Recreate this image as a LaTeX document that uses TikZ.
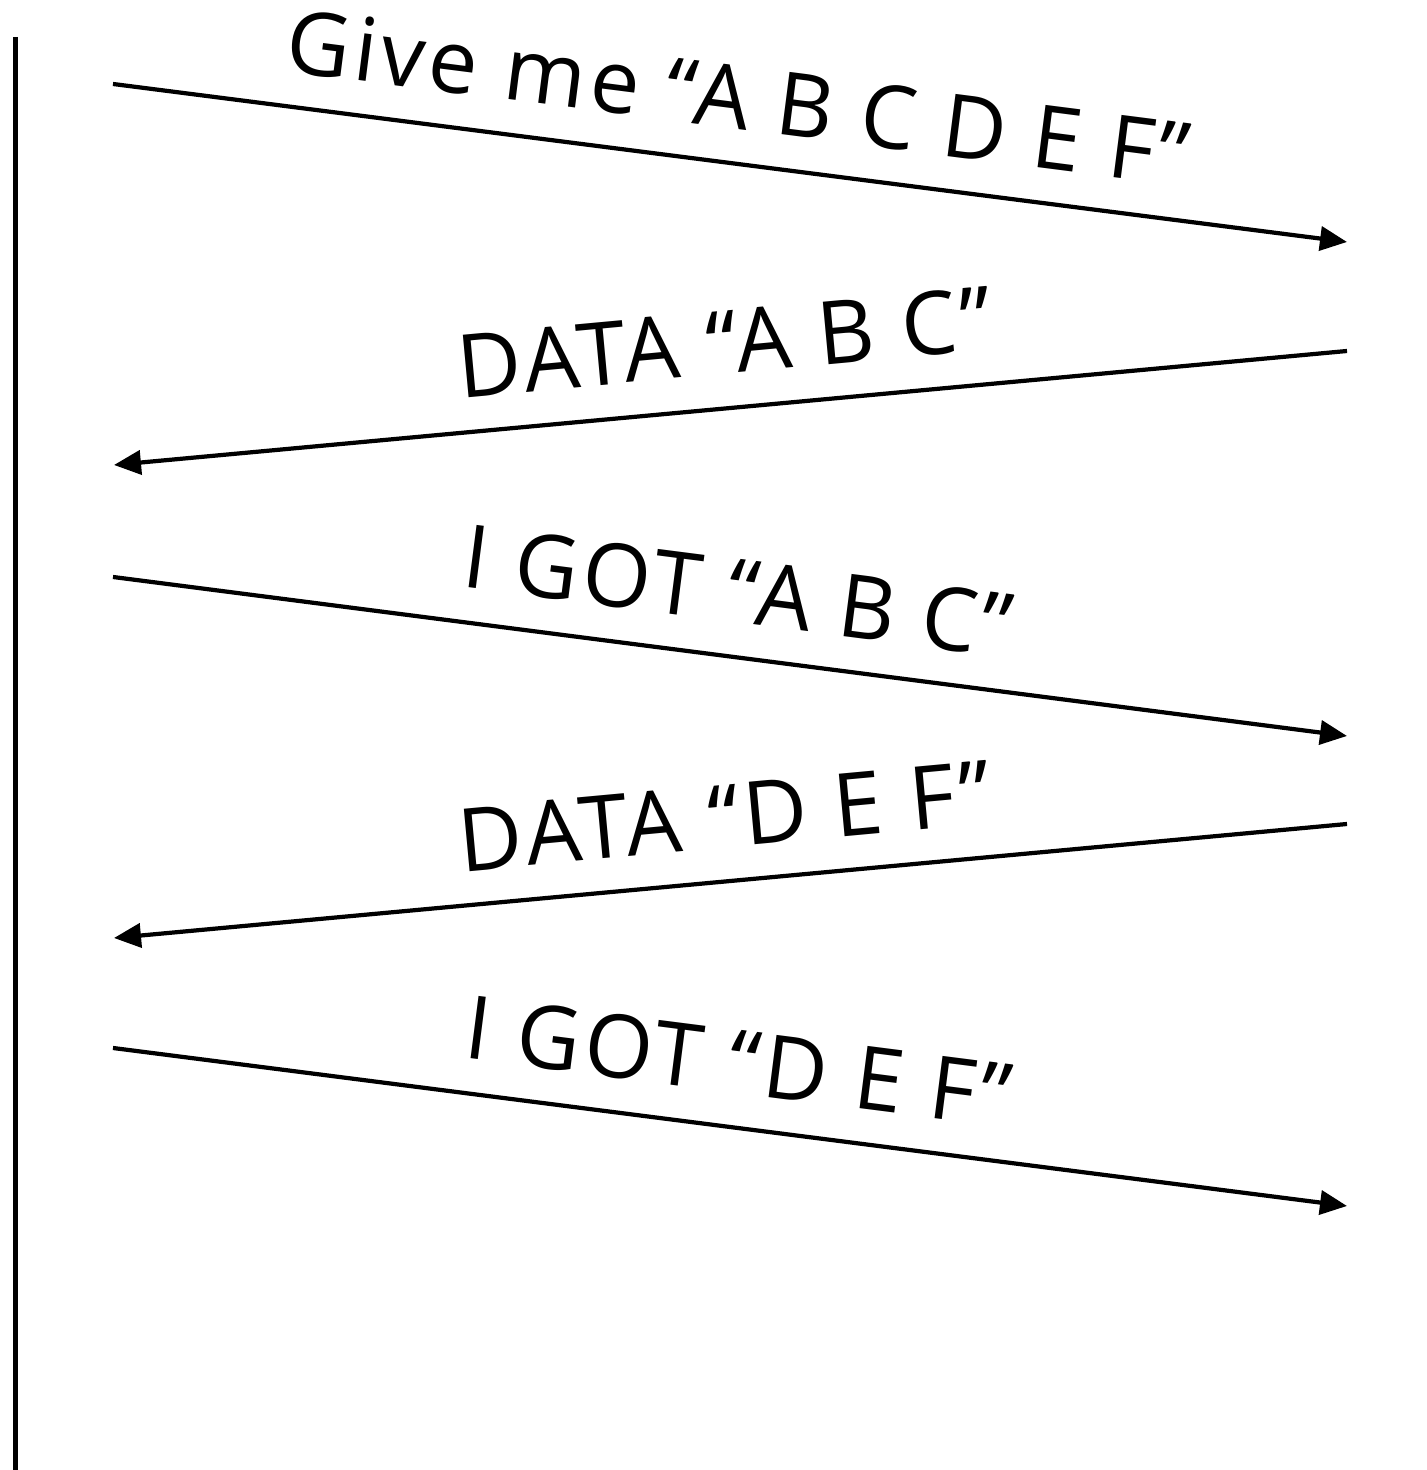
\documentclass[tikz,border=0pt]{standalone}
\usepackage{fontspec}
\setmainfont[LetterSpace=5]{Open Sans}
\usetikzlibrary{arrows.meta,positioning}
\tikzset{
  msg/.style={line width=1.2pt, -{Triangle[length=0.27cm, width=0.24cm]}},
  msglabel/.style={midway, sloped, above=0.28cm, inner sep=1pt, font=\fontsize{25}{30}\selectfont},
  lifeline/.style={line width=1.4pt}
}
\begin{document}
\begin{tikzpicture}
  \useasboundingbox (0,0) rectangle (14.27,14.70);

  % Lifeline on the left
  \coordinate (top) at (0.155,14.33);
  \coordinate (bottom) at (0.155,0);
  \draw[lifeline] (top) -- (bottom);

  % End points of the messages
  \coordinate (a1) at (1.13,13.86);  \coordinate (b1) at (13.47,12.28);
  \coordinate (b2) at (13.47,11.19); \coordinate (a2) at (1.14,10.05);
  \coordinate (a3) at (1.13,8.93);   \coordinate (b3) at (13.47,7.34);
  \coordinate (b4) at (13.47,6.46);  \coordinate (a4) at (1.14,5.32);
  \coordinate (a5) at (1.13,4.22);   \coordinate (b5) at (13.47,2.64);

  % Messages
  \draw[msg] (a1) -- node[msglabel] (give) {Give me “A B C D E F”} (b1);
  \draw[msg] (b2) -- node[msglabel] (data1) {DATA “A B C”} (a2);
  \draw[msg] (a3) -- node[msglabel] (got1) {I GOT “A B C”} (b3);
  \draw[msg] (b4) -- node[msglabel] (data2) {DATA “D E F”} (a4);
  \draw[msg] (a5) -- node[msglabel] (got2) {I GOT “D E F”} (b5);
\end{tikzpicture}
\end{document}
